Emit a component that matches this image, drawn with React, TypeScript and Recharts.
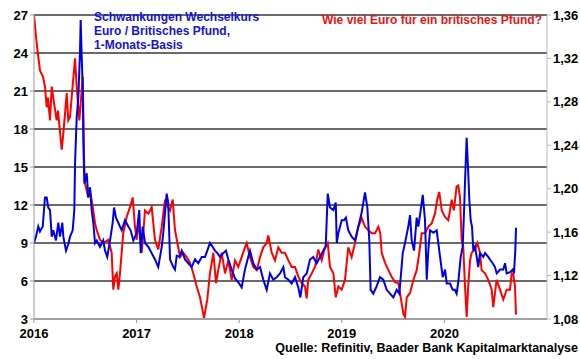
import { LineChart, Line, XAxis, YAxis, CartesianGrid } from "recharts";

// EUR per GBP (right axis), dates as decimal years
const eurGbpDates = [
  2016.0, 2016.026, 2016.058, 2016.088, 2016.107, 2016.124, 2016.136, 2016.156, 2016.173, 2016.195,
  2016.221, 2016.234, 2016.27, 2016.286, 2016.319, 2016.334, 2016.351, 2016.367, 2016.4, 2016.416,
  2016.442, 2016.475, 2016.49, 2016.497, 2016.529, 2016.546, 2016.578, 2016.595, 2016.611, 2016.643,
  2016.675, 2016.724, 2016.757, 2016.773, 2016.789, 2016.806, 2016.822, 2016.838, 2016.87, 2016.903,
  2016.936, 2016.962, 2016.984, 2017.001, 2017.017, 2017.05, 2017.082, 2017.114, 2017.147, 2017.179,
  2017.211, 2017.245, 2017.277, 2017.3, 2017.326, 2017.352, 2017.374, 2017.406, 2017.423, 2017.455,
  2017.488, 2017.52, 2017.553, 2017.586, 2017.618, 2017.657, 2017.689, 2017.715, 2017.748, 2017.774,
  2017.796, 2017.829, 2017.862, 2017.894, 2017.927, 2017.959, 2017.991, 2018.024, 2018.056, 2018.073,
  2018.105, 2018.137, 2018.171, 2018.203, 2018.235, 2018.268, 2018.284, 2018.317, 2018.349, 2018.381,
  2018.414, 2018.446, 2018.479, 2018.512, 2018.544, 2018.576, 2018.609, 2018.641, 2018.658, 2018.673,
  2018.707, 2018.739, 2018.771, 2018.804, 2018.836, 2018.863, 2018.885, 2018.918, 2018.941, 2018.967,
  2018.999, 2019.031, 2019.063, 2019.096, 2019.129, 2019.161, 2019.194, 2019.226, 2019.258, 2019.291,
  2019.324, 2019.356, 2019.375, 2019.389, 2019.421, 2019.454, 2019.486, 2019.519, 2019.551, 2019.574,
  2019.6, 2019.616, 2019.633, 2019.665, 2019.697, 2019.73, 2019.755, 2019.779, 2019.811, 2019.843,
  2019.876, 2019.908, 2019.93, 2019.95, 2019.974, 2020.006, 2020.038, 2020.055, 2020.071, 2020.092,
  2020.119, 2020.135, 2020.152, 2020.168, 2020.184, 2020.201, 2020.217, 2020.232, 2020.25, 2020.266,
  2020.298, 2020.321, 2020.347, 2020.363, 2020.396, 2020.428, 2020.461, 2020.476, 2020.509, 2020.542,
  2020.574, 2020.607, 2020.639, 2020.656, 2020.672, 2020.688, 2020.698,
];
const eurGbp = [
  1.36, 1.334, 1.309, 1.303, 1.294, 1.275, 1.284, 1.263, 1.294, 1.279,
  1.263, 1.272, 1.236, 1.251, 1.288, 1.263, 1.266, 1.284, 1.32, 1.294,
  1.263, 1.303, 1.22, 1.205, 1.192, 1.199, 1.18, 1.168, 1.162, 1.153,
  1.15, 1.153, 1.141, 1.107, 1.119, 1.122, 1.107, 1.122, 1.159, 1.174,
  1.183, 1.192, 1.165, 1.153, 1.17, 1.141, 1.18, 1.177, 1.183, 1.153,
  1.144, 1.165, 1.19, 1.184, 1.18, 1.19, 1.162, 1.146, 1.137, 1.141,
  1.137, 1.132, 1.122, 1.11, 1.1, 1.081, 1.098, 1.122, 1.141, 1.113,
  1.125, 1.141, 1.122, 1.134, 1.116, 1.134, 1.128, 1.137, 1.146, 1.15,
  1.137, 1.128, 1.125, 1.137, 1.146, 1.15, 1.157, 1.141, 1.134, 1.146,
  1.141, 1.141, 1.134, 1.128, 1.128, 1.119, 1.113, 1.11, 1.099, 1.116,
  1.122, 1.128, 1.144, 1.134, 1.146, 1.15, 1.128, 1.122, 1.1, 1.11,
  1.107, 1.116, 1.146, 1.137, 1.15, 1.165, 1.173, 1.165, 1.162, 1.159,
  1.159, 1.165, 1.159, 1.141, 1.132, 1.125, 1.119, 1.114, 1.113, 1.1,
  1.085, 1.082, 1.1, 1.104, 1.116, 1.125, 1.141, 1.159, 1.159, 1.165,
  1.168, 1.177, 1.19, 1.197, 1.18, 1.174, 1.171, 1.18, 1.19, 1.18,
  1.202, 1.203, 1.192, 1.153, 1.146, 1.11, 1.082, 1.11, 1.134, 1.141,
  1.144, 1.15, 1.141, 1.125, 1.122, 1.116, 1.107, 1.091, 1.116, 1.107,
  1.098, 1.107, 1.107, 1.122, 1.121, 1.11, 1.084,
];

// 1-month volatility EUR/GBP (left axis)
const volDates = [
  2016.0, 2016.019, 2016.042, 2016.058, 2016.085, 2016.107, 2016.124, 2016.139, 2016.156, 2016.173,
  2016.188, 2016.214, 2016.237, 2016.253, 2016.276, 2016.286, 2016.312, 2016.334, 2016.351, 2016.377,
  2016.393, 2016.4, 2016.416, 2016.432, 2016.448, 2016.455, 2016.465, 2016.475, 2016.481, 2016.491,
  2016.514, 2016.529, 2016.546, 2016.562, 2016.578, 2016.595, 2016.611, 2016.643, 2016.675, 2016.692,
  2016.714, 2016.741, 2016.767, 2016.78, 2016.799, 2016.822, 2016.838, 2016.855, 2016.887, 2016.919,
  2016.942, 2016.968, 2017.001, 2017.026, 2017.04, 2017.059, 2017.082, 2017.114, 2017.147, 2017.179,
  2017.211, 2017.245, 2017.26, 2017.293, 2017.308, 2017.326, 2017.358, 2017.374, 2017.391, 2017.416,
  2017.44, 2017.472, 2017.504, 2017.537, 2017.569, 2017.601, 2017.635, 2017.667, 2017.689, 2017.715,
  2017.741, 2017.764, 2017.787, 2017.813, 2017.845, 2017.871, 2017.894, 2017.927, 2017.959, 2017.991,
  2018.024, 2018.056, 2018.088, 2018.105, 2018.137, 2018.171, 2018.203, 2018.235, 2018.268, 2018.3,
  2018.332, 2018.365, 2018.398, 2018.43, 2018.446, 2018.479, 2018.512, 2018.544, 2018.576, 2018.596,
  2018.625, 2018.658, 2018.69, 2018.722, 2018.755, 2018.788, 2018.82, 2018.843, 2018.863, 2018.885,
  2018.918, 2018.941, 2018.951, 2018.967, 2018.999, 2019.021, 2019.04, 2019.063, 2019.096, 2019.129,
  2019.161, 2019.194, 2019.226, 2019.249, 2019.268, 2019.281, 2019.307, 2019.34, 2019.372, 2019.404,
  2019.438, 2019.47, 2019.502, 2019.535, 2019.561, 2019.594, 2019.616, 2019.648, 2019.665, 2019.681,
  2019.704, 2019.73, 2019.746, 2019.769, 2019.789, 2019.811, 2019.828, 2019.843, 2019.86, 2019.892,
  2019.925, 2019.95, 2019.974, 2019.984, 2020.006, 2020.023, 2020.055, 2020.081, 2020.102, 2020.119,
  2020.135, 2020.159, 2020.178, 2020.191, 2020.204, 2020.217, 2020.23, 2020.243, 2020.256, 2020.269,
  2020.282, 2020.298, 2020.315, 2020.33, 2020.347, 2020.379, 2020.396, 2020.428, 2020.444, 2020.471,
  2020.493, 2020.51, 2020.542, 2020.574, 2020.591, 2020.607, 2020.639, 2020.666, 2020.678, 2020.691,
  2020.698,
];
const vol = [
  9.0, 9.5, 10.3, 9.9, 10.3, 12.6, 12.6, 11.8, 11.6, 9.5,
  10.0, 9.2, 10.6, 9.5, 10.6, 9.5, 8.4, 8.9, 9.5, 10.0,
  11.6, 15.3, 18.9, 20.5, 24.0, 26.6, 23.7, 21.3, 16.9, 13.7,
  14.5, 12.6, 13.4, 11.6, 10.6, 9.0, 9.2, 8.7, 9.2, 8.4,
  7.9, 9.2, 10.6, 11.8, 11.0, 10.6, 10.3, 10.0, 10.8, 10.3,
  10.0, 9.2, 9.8, 11.6, 8.2, 10.3, 9.0, 8.7, 8.2, 7.7,
  7.1, 8.7, 9.8, 12.9, 12.2, 7.7, 7.1, 6.9, 8.0, 7.9,
  8.4, 7.7, 7.4, 7.1, 7.7, 7.4, 7.9, 7.9, 8.4, 9.0,
  8.7, 8.4, 8.2, 7.9, 8.2, 8.4, 7.7, 6.9, 6.2, 5.9,
  5.5, 6.9, 7.9, 8.4, 7.4, 6.9, 7.1, 6.1, 5.3, 6.6,
  6.1, 6.3, 6.6, 7.1, 6.3, 6.1, 5.8, 6.3, 5.5, 4.7,
  6.3, 6.6, 7.7, 7.9, 7.4, 7.9, 8.4, 8.7, 12.9, 11.8,
  11.6, 12.2, 9.0, 9.8, 10.8, 10.8, 11.0, 10.0, 9.5, 9.2,
  10.3, 11.4, 13.0, 11.8, 9.2, 5.3, 5.0, 5.6, 6.3, 6.1,
  5.3, 5.0, 4.7, 5.3, 5.0, 8.2, 9.0, 10.3, 11.2, 9.2,
  8.4, 11.0, 10.3, 11.6, 12.8, 10.8, 6.1, 8.4, 10.0, 9.8,
  10.0, 8.4, 6.9, 6.3, 6.9, 5.8, 5.8, 5.3, 5.3, 5.0,
  5.9, 7.9, 8.7, 11.4, 14.5, 17.3, 15.0, 12.4, 10.8, 10.3,
  8.4, 8.7, 7.9, 7.1, 8.2, 7.9, 8.2, 7.9, 7.7, 7.4,
  7.1, 6.6, 6.9, 6.9, 7.4, 6.6, 6.7, 6.9, 6.6, 8.4,
  10.2,
];

const yearTicks = [2016, 2017, 2018, 2019, 2020];
const xDomain = [2016, 2021];
const volTicks = [3, 6, 9, 12, 15, 18, 21, 24, 27];
const fxTicks = [1.08, 1.12, 1.16, 1.2, 1.24, 1.28, 1.32, 1.36];

const fxData = eurGbpDates.map((t, i) => ({ t, v: eurGbp[i] }));
const volData = volDates.map((t, i) => ({ t, vol: vol[i] }));
// horizontal gridlines at the left-axis ticks, drawn as flat two-point series
const gridData = volTicks.slice(1).map((g) => xDomain.map((t) => ({ t, g })));

const font = "'Liberation Sans', Arial, sans-serif";
const tickStyle = { fill: "#000", fontSize: 13, fontWeight: 700, fontFamily: font };

export default function App() {
  return (
    <div style={{ position: "relative", width: 580, height: 359, fontFamily: font, background: "#fff" }}>
      <style>{"body{margin:0}"}</style>
      <LineChart width={580} height={359} data={volData} margin={{ top: 15, right: 0, left: 0, bottom: 18 }}>
        <CartesianGrid yAxisId="l" vertical={false} stroke="#555" />
        <XAxis
          type="number"
          dataKey="t"
          domain={xDomain}
          ticks={yearTicks}
          allowDataOverflow
          height={22}
          stroke="#999"
          tickSize={4}
          tickMargin={6}
          tick={tickStyle}
        />
        <YAxis
          yAxisId="l"
          type="number"
          domain={[3, 27]}
          ticks={volTicks}
          width={34}
          stroke="#999"
          tickSize={4}
          tick={tickStyle}
        />
        <YAxis
          yAxisId="r"
          type="number"
          orientation="right"
          domain={[1.08, 1.36]}
          ticks={fxTicks}
          width={33}
          stroke="#bbb"
          tickSize={4}
          tick={tickStyle}
          tickFormatter={(v: number) => v.toFixed(2).replace(".", ",")}
        />
        {gridData.map((d, i) => (
          <Line
            key={`grid-${i}`}
            yAxisId="l"
            data={d}
            dataKey="g"
            stroke="#555"
            strokeWidth={1.5}
            dot={false}
            activeDot={false}
            isAnimationActive={false}
          />
        ))}
        <Line yAxisId="r" data={fxData} dataKey="v" stroke="#ff0000" strokeWidth={2} dot={false} isAnimationActive={false} />
        <Line yAxisId="l" dataKey="vol" stroke="#0000e6" strokeWidth={2} dot={false} isAnimationActive={false} />
      </LineChart>
      <div style={{ position: "absolute", left: 94, top: 10, color: "#1414d2", fontWeight: 700, fontSize: 12, lineHeight: "14px" }}>
        Schwankungen Wechselkurs
        <br />
        Euro / Britisches Pfund,
        <br />
        1-Monats-Basis
      </div>
      <div style={{ position: "absolute", right: 38, top: 13, color: "#e61414", fontWeight: 700, fontSize: 12, lineHeight: "14px" }}>
        Wie viel Euro für ein britisches Pfund?
      </div>
      <div style={{ position: "absolute", right: 2, top: 341, color: "#000", fontWeight: 700, fontSize: 12.5, lineHeight: "14px" }}>
        Quelle: Refinitiv, Baader Bank Kapitalmarktanalyse
      </div>
    </div>
  );
}
